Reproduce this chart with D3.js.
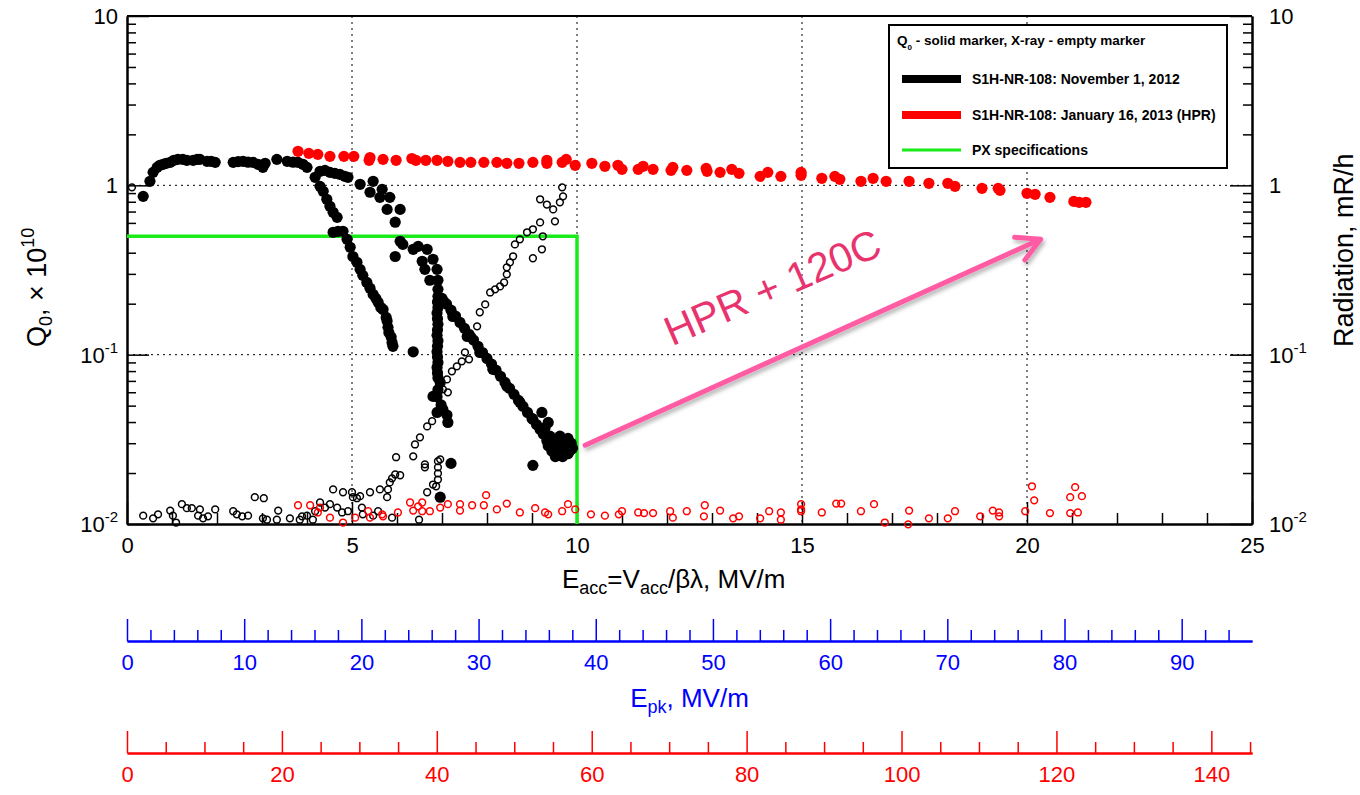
<!DOCTYPE html>
<html>
<head>
<meta charset="utf-8">
<script src="https://cdn.jsdelivr.net/npm/d3@7"></script>
<style>
  body { margin: 0; background: #fff; }
  text { font-family: "Liberation Sans", Arial, Helvetica, sans-serif; }
</style>
</head>
<body>
<div id="chart"></div>
<script>
// Q0 (x 1e10) and X-ray (mR/h) vs Eacc (MV/m)
var novQ0 = [
  [0.36,0.861],[0.51,1.056],[0.58,1.193],[0.67,1.277],[0.73,1.313],[0.80,1.331],[0.87,1.349],[0.96,1.367],
  [1.04,1.405],[1.13,1.424],[1.24,1.424],[1.33,1.405],[1.47,1.405],[1.56,1.424],[1.62,1.424],[1.78,1.386],
  [1.87,1.386],[1.96,1.367],[2.36,1.367],[2.47,1.38],[2.58,1.386],[2.69,1.37],[2.80,1.367],[2.91,1.33],
  [3.02,1.277],[3.07,1.349],[3.33,1.424],[3.56,1.386],[3.69,1.37],[3.80,1.367],[3.91,1.331],[4.00,1.277],
  [4.18,1.115],[4.29,1.21],[4.40,1.226],[4.51,1.193],[4.62,1.177],[4.73,1.161],[4.84,1.130],[4.91,1.115],
  // first drop
  [4.29,0.986],[4.36,0.922],[4.44,0.827],[4.51,0.752],[4.58,0.693],[4.67,0.647],[4.58,0.528],[4.69,0.535],
  [4.80,0.535],[4.89,0.48],[4.96,0.431],[5.02,0.38],[5.11,0.351],[5.18,0.319],[5.24,0.294],[5.33,0.267],
  [5.40,0.247],[5.47,0.227],[5.53,0.215],[5.58,0.204],[5.64,0.190],[5.69,0.185],[5.76,0.166],[5.78,0.158],
  [5.80,0.145],[5.82,0.135],[5.87,0.127],[5.89,0.118],[5.91,0.112],
  // second drop
  [5.18,1.014],[5.47,1.056],[5.40,0.910],[5.67,0.947],[5.62,0.849],[5.84,0.849],[5.78,0.721],[6.07,0.721],
  [5.96,0.606],[6.07,0.467],[6.13,0.448],[5.96,0.380],[6.36,0.419],[6.47,0.436],[6.67,0.419],[6.56,0.356],
  [6.80,0.366],[6.62,0.319],[6.89,0.319],[6.73,0.275],[6.91,0.275],[6.91,0.243],
  [6.91,0.221],[6.90,0.205],[6.91,0.19],[6.89,0.176],[6.90,0.163],[6.91,0.151],[6.90,0.140],[6.89,0.130],
  [6.91,0.121],[6.90,0.112],[6.89,0.104],[6.90,0.097],[6.91,0.090],[6.89,0.084],[6.90,0.078],[6.91,0.073],
  [6.96,0.0686],[6.91,0.062],[6.80,0.0567],[6.89,0.0564],[6.98,0.0505],[7.02,0.0475],[7.11,0.044],
  [7.13,0.0398],[6.89,0.0456],[6.36,0.104],[7.20,0.0228],[6.96,0.0144],
  // long slope
  [7.00,0.215],[7.05,0.205],[7.10,0.199],[7.20,0.183],[7.24,0.168],[7.30,0.169],[7.40,0.155],[7.50,0.143],
  [7.56,0.128],[7.60,0.132],[7.70,0.122],[7.80,0.112],[7.84,0.103],[7.90,0.103],[8.00,0.095],[8.10,0.088],
  [8.13,0.0819],[8.20,0.081],[8.30,0.0745],[8.40,0.0686],[8.44,0.065],[8.50,0.0633],[8.60,0.0583],
  [8.70,0.0537],[8.73,0.0523],[8.80,0.0495],[8.90,0.0456],[9.00,0.042],[9.02,0.0415],[9.10,0.0387],
  [9.18,0.0362],[9.22,0.0456],[9.36,0.0398],[9.29,0.037],
  [9.25,0.034],[9.33,0.031],[9.40,0.033],[9.45,0.029],[9.50,0.031],[9.55,0.027],[9.58,0.030],[9.62,0.033],
  [9.66,0.028],[9.70,0.031],[9.73,0.026],[9.76,0.029],[9.80,0.032],[9.84,0.027],[9.87,0.030],[9.90,0.028],
  [9.52,0.025],[9.60,0.026],[9.68,0.025],[9.80,0.026],[9.44,0.027],[9.36,0.029],[9.02,0.0222]
];

var novXray = [
  [0.11,0.973],[0.36,0.0112],[0.58,0.0108],[0.69,0.0114],[0.96,0.012],[1.02,0.0112],[1.09,0.0102],
  [1.22,0.0131],[1.33,0.0124],[1.44,0.0124],[1.62,0.0122],[1.58,0.0112],[1.69,0.0108],[1.80,0.0111],
  [1.96,0.0122],[2.36,0.0119],[2.44,0.0114],[2.56,0.0111],[2.69,0.0112],[2.84,0.0144],[3.04,0.0142],
  [3.02,0.0108],[3.11,0.0106],[3.36,0.012],[3.33,0.0106],[3.62,0.0108],[3.84,0.0106],[3.89,0.0111],
  [4.00,0.0112],[4.13,0.0106],[4.18,0.0119],[4.29,0.0134],[4.40,0.0125],[4.51,0.0131],[4.58,0.016],
  [4.67,0.0125],[4.78,0.0117],[4.80,0.0154],[4.91,0.0119],[5.00,0.0154],[5.02,0.0144],[5.11,0.0142],
  [5.18,0.0146],[5.22,0.0125],[5.24,0.0114],[5.40,0.0154],[5.47,0.0112],[5.58,0.0119],[5.62,0.016],
  [5.78,0.0144],[5.80,0.016],[5.84,0.0176],[5.89,0.0186],[5.96,0.0196],[5.98,0.0248],[6.07,0.0194],
  [5.89,0.0109],[6.36,0.0251],[6.40,0.0295],[6.62,0.0216],[6.67,0.0154],[6.80,0.0171],[6.87,0.0167],
  [6.91,0.0235],[6.91,0.0216],[6.91,0.0199],[6.91,0.0183],[6.49,0.0106],[6.51,0.0325],[6.67,0.0377],
  [6.78,0.0405],[6.89,0.0564],[7.02,0.0624],[7.13,0.0599],[7.11,0.0714],[7.22,0.0797],[7.33,0.0853],
  [7.44,0.0913],[7.60,0.0938],[7.51,0.1031],[7.67,0.128],[7.78,0.147],[7.84,0.178],[7.96,0.198],
  [8.07,0.233],[8.18,0.243],[8.29,0.253],[8.38,0.267],[8.44,0.298],[8.44,0.328],[8.51,0.351],
  [8.58,0.381],[8.62,0.448],[8.73,0.48],[8.89,0.528],[9.02,0.55],[9.18,0.604],[9.02,0.371],[9.22,0.419],
  [9.24,0.50],[9.51,0.613],[9.47,0.721],[9.33,0.77],[9.62,0.794],[9.18,0.827],[9.69,0.861],[9.67,0.973],
  [6.62,0.0225],[6.96,0.0241]
];

var janQ0 = [
  [3.80,1.588],[4.04,1.545],[4.24,1.524],[4.51,1.483],[4.82,1.483],[5.04,1.483],[5.38,1.405],[5.40,1.46],
  [5.69,1.424],[5.98,1.405],[6.33,1.44],[6.42,1.405],[6.64,1.405],[6.89,1.405],[7.13,1.386],[7.40,1.367],
  [7.64,1.367],[7.93,1.367],[8.22,1.367],[8.44,1.349],[8.71,1.349],[9.02,1.367],[9.33,1.349],[9.33,1.405],
  [9.67,1.367],[9.76,1.424],[9.96,1.313],[10.33,1.349],[10.62,1.295],[10.91,1.313],[11.00,1.243],
  [11.36,1.243],[11.47,1.295],[11.69,1.243],[12.09,1.226],[12.13,1.277],[12.44,1.226],[12.87,1.26],
  [12.89,1.21],[13.18,1.193],[13.44,1.243],[13.60,1.177],[14.07,1.130],[14.24,1.193],[14.53,1.130],
  [14.98,1.146],[14.98,1.193],[15.44,1.10],[15.73,1.130],[15.84,1.085],[16.31,1.056],[16.58,1.10],
  [16.87,1.056],[17.38,1.056],[17.82,1.028],[18.24,1.028],[18.40,0.986],[19.00,0.96],[19.36,0.96],
  [19.40,0.934],[20.00,0.897],[20.18,0.885],[20.51,0.849],[21.04,0.804],[21.16,0.794],[21.31,0.794]
];

var janXray = [
  [3.80,0.0129],[4.07,0.0129],[4.24,0.0117],[4.29,0.0125],[4.51,0.0109],[4.80,0.0102],[5.07,0.0109],
  [5.36,0.0119],[5.40,0.0109],[5.67,0.0114],[5.69,0.0111],[6.02,0.0117],[6.29,0.0134],[6.36,0.012],
  [6.47,0.0127],[6.56,0.0134],[6.56,0.0119],[6.73,0.0119],[6.96,0.0125],[7.13,0.0131],[7.40,0.0131],
  [7.40,0.012],[7.67,0.0129],[7.93,0.0129],[7.98,0.0148],[8.22,0.0122],[8.44,0.0132],[8.73,0.0117],
  [9.07,0.0124],[9.29,0.0117],[9.36,0.0114],[9.67,0.0119],[9.80,0.0131],[9.96,0.0122],[10.31,0.0114],
  [10.62,0.0112],[10.93,0.0114],[11.00,0.0119],[11.36,0.0117],[11.49,0.0116],[11.69,0.0116],[12.07,0.0119],
  [12.13,0.0109],[12.44,0.0119],[12.82,0.0111],[12.84,0.0129],[13.18,0.012],[13.47,0.0108],[13.60,0.0111],
  [14.07,0.0108],[14.27,0.0119],[14.53,0.0117],[14.53,0.0106],[14.98,0.0131],[14.98,0.0122],[14.98,0.0119],
  [15.44,0.0117],[15.76,0.0132],[15.87,0.0132],[16.31,0.0119],[16.60,0.0131],[16.84,0.0102],[17.38,0.012],
  [17.36,0.00995],[17.82,0.0108],[18.24,0.0108],[18.40,0.0119],[18.96,0.0111],[19.24,0.012],[19.38,0.0117],
  [19.38,0.0111],[19.96,0.0119],[20.11,0.0167],[20.16,0.0138],[20.51,0.0116],[20.96,0.0144],[21.07,0.0165],
  [21.22,0.0146],[20.96,0.0116],[21.13,0.0117]
];

// PX specification line
var specE = [0, 10, 10];
var specQ = [0.5, 0.5, 0.01];

var xTicks = [0, 5, 10, 15, 20, 25];
var yTicks = [0.01, 0.1, 1, 10];
var yTickBase = ["10", "10", "1", "10"];
var yTickExp = ["-2", "-1", "", ""];
var epkTicks = [0, 10, 20, 30, 40, 50, 60, 70, 80, 90];
var bpkTicks = [0, 20, 40, 60, 80, 100, 120, 140];
var epkPerEacc = 3.84;
var bpkPerEacc = 5.81;

var legendTitle = " - solid marker, X-ray - empty marker";
var legendLabels = ["S1H-NR-108: November 1, 2012", "S1H-NR-108: January 16, 2013 (HPR)", "PX specifications"];
var legendColors = ["#000000", "#ff0000", "#19ea19"];

var svgWidth = 1360;
var svgHeight = 795;
var margin = { top: 16, right: 108, bottom: 271, left: 127 };
var width = svgWidth - margin.left - margin.right;
var height = svgHeight - margin.top - margin.bottom;
var font = '"Liberation Sans", Arial, Helvetica, sans-serif';

var svg = d3.select("#chart").append("svg")
  .attr("width", svgWidth)
  .attr("height", svgHeight);

var defs = svg.append("defs");
defs.append("filter").attr("id", "shadow")
  .attr("x", "-10%").attr("y", "-10%").attr("width", "120%").attr("height", "130%")
  .append("feDropShadow")
  .attr("dx", 2).attr("dy", 3).attr("stdDeviation", 2)
  .attr("flood-color", "#000").attr("flood-opacity", 0.3);

var chartGroup = svg.append("g")
  .attr("transform", `translate(${margin.left}, ${margin.top})`);

var xScale = d3.scaleLinear().domain([0, 25]).range([0, width]);
var yScale = d3.scaleLog().domain([0.01, 10]).range([height, 0]);
var epkScale = d3.scaleLinear().domain([0, 25 * epkPerEacc]).range([0, width]);
var bpkScale = d3.scaleLinear().domain([0, 25 * bpkPerEacc]).range([0, width]);

// grid
chartGroup.selectAll(".vgrid")
  .data(xTicks.slice(1, -1))
  .enter().append("line")
  .attr("x1", d => xScale(d)).attr("x2", d => xScale(d))
  .attr("y1", 0).attr("y2", height)
  .attr("stroke", "#000").attr("stroke-width", 1).attr("stroke-dasharray", "2,4");

chartGroup.selectAll(".hgrid")
  .data(yTicks.slice(1, -1))
  .enter().append("line")
  .attr("x1", 0).attr("x2", width)
  .attr("y1", d => yScale(d)).attr("y2", d => yScale(d))
  .attr("stroke", "#000").attr("stroke-width", 1).attr("stroke-dasharray", "2,4");

function styleAxis(g, color) {
  g.attr("font-family", font).attr("font-size", 22);
  g.select(".domain").attr("stroke", color).attr("stroke-width", 2);
  g.selectAll(".tick line").attr("stroke", color).attr("stroke-width", 1.5);
  g.selectAll(".tick text").attr("fill", color);
}

// minor tick values
var xMinor = d3.range(0, 26, 1).filter(d => d % 5 !== 0);
var yMinor = [];
[0.01, 0.1, 1].forEach(function(dec) {
  for (var k = 2; k <= 9; k++) yMinor.push(dec * k);
});

// bottom axis
var xAxis = chartGroup.append("g")
  .attr("transform", `translate(0, ${height})`)
  .call(d3.axisBottom(xScale).tickValues(xTicks).tickSize(-22).tickSizeOuter(0).tickPadding(13));
styleAxis(xAxis, "#000");
chartGroup.append("g")
  .attr("transform", `translate(0, ${height})`)
  .call(d3.axisBottom(xScale).tickValues(xMinor).tickSize(-11).tickSizeOuter(0).tickFormat(""))
  .call(g => styleAxis(g, "#000"));

// left and right log axes
var leftAxis = chartGroup.append("g")
  .call(d3.axisLeft(yScale).tickValues(yTicks).tickSize(-22).tickSizeOuter(0).tickFormat(""));
styleAxis(leftAxis, "#000");
chartGroup.append("g")
  .call(d3.axisLeft(yScale).tickValues(yMinor).tickSize(-9).tickSizeOuter(0).tickFormat(""))
  .call(g => styleAxis(g, "#000"));

var rightAxis = chartGroup.append("g")
  .attr("transform", `translate(${width}, 0)`)
  .call(d3.axisRight(yScale).tickValues(yTicks).tickSize(-22).tickSizeOuter(0).tickFormat(""));
styleAxis(rightAxis, "#000");
chartGroup.append("g")
  .attr("transform", `translate(${width}, 0)`)
  .call(d3.axisRight(yScale).tickValues(yMinor).tickSize(-9).tickSizeOuter(0).tickFormat(""))
  .call(g => styleAxis(g, "#000"));

// frame top line
chartGroup.append("line")
  .attr("x1", 0).attr("x2", width).attr("y1", 0).attr("y2", 0)
  .attr("stroke", "#000").attr("stroke-width", 2);

// log tick labels (10^n style)
function logLabel(g, x, anchor) {
  yTicks.forEach(function(v, i) {
    var t = g.append("text")
      .attr("x", x)
      .attr("y", yScale(v) + 8)
      .attr("text-anchor", anchor)
      .attr("font-size", 22)
      .attr("fill", "#000");
    t.append("tspan").text(yTickBase[i]);
    if (yTickExp[i]) {
      t.append("tspan").attr("font-size", 15).attr("dy", -10).text(yTickExp[i]);
    }
  });
}
logLabel(chartGroup, -9, "end");
logLabel(chartGroup, width + 17, "start");

// spec line
var specLine = d3.line().x(d => xScale(d[0])).y(d => yScale(d[1]));
chartGroup.append("path")
  .datum(specE.map((e, i) => [e, specQ[i]]))
  .attr("d", specLine)
  .attr("fill", "none")
  .attr("stroke", legendColors[2])
  .attr("stroke-width", 3.5);

// markers
function solid(data, color) {
  chartGroup.append("g").selectAll("circle")
    .data(data).enter().append("circle")
    .attr("cx", d => xScale(d[0]))
    .attr("cy", d => yScale(d[1]))
    .attr("r", 5.6)
    .attr("fill", color);
}
function empty(data, color) {
  chartGroup.append("g").selectAll("circle")
    .data(data).enter().append("circle")
    .attr("cx", d => xScale(d[0]))
    .attr("cy", d => yScale(d[1]))
    .attr("r", 3.4)
    .attr("fill", "none")
    .attr("stroke", color)
    .attr("stroke-width", 1.5);
}
solid(novQ0, legendColors[0]);
empty(novXray, legendColors[0]);
empty(janXray, legendColors[1]);
solid(janQ0, legendColors[1]);

// axis titles
var xTitle = svg.append("text")
  .attr("x", 562).attr("y", 588)
  .attr("font-size", 26).attr("fill", "#000");
xTitle.append("tspan").text("E");
xTitle.append("tspan").attr("font-size", 18).attr("dy", 6).text("acc");
xTitle.append("tspan").attr("dy", -6).text("=V");
xTitle.append("tspan").attr("font-size", 18).attr("dy", 6).text("acc");
xTitle.append("tspan").attr("dy", -6).text("/\u03b2\u03bb, MV/m");

var yTitle = svg.append("text")
  .attr("transform", "translate(46, 347) rotate(-90)")
  .attr("font-size", 27).attr("fill", "#000");
yTitle.append("tspan").text("Q");
yTitle.append("tspan").attr("font-size", 18).attr("dy", 6).text("0");
yTitle.append("tspan").attr("dy", -6).text(", \u00d7 10");
yTitle.append("tspan").attr("font-size", 18).attr("dy", -12).text("10");

svg.append("text")
  .attr("transform", "translate(1353, 347) rotate(-90)")
  .attr("font-size", 27).attr("fill", "#000")
  .text("Radiation, mR/h");

// Epk axis (blue)
var epkY = 641;
var epkAxis = svg.append("g")
  .attr("transform", `translate(${margin.left}, ${epkY})`)
  .call(d3.axisBottom(epkScale).tickValues(epkTicks).tickSize(-22).tickSizeOuter(0).tickPadding(13));
styleAxis(epkAxis, "#0000ff");
svg.append("g")
  .attr("transform", `translate(${margin.left}, ${epkY})`)
  .call(d3.axisBottom(epkScale).tickValues(d3.range(0, 96, 2).filter(d => d % 10 !== 0)).tickSize(-11).tickSizeOuter(0).tickFormat(""))
  .call(g => styleAxis(g, "#0000ff"));

var epkTitle = svg.append("text")
  .attr("x", margin.left + width / 2).attr("y", 707)
  .attr("text-anchor", "middle")
  .attr("font-size", 26).attr("fill", "#0000ff");
epkTitle.append("tspan").text("E");
epkTitle.append("tspan").attr("font-size", 18).attr("dy", 6).text("pk");
epkTitle.append("tspan").attr("dy", -6).text(", MV/m");

// Bpk axis (red)
var bpkY = 753;
var bpkAxis = svg.append("g")
  .attr("transform", `translate(${margin.left}, ${bpkY})`)
  .call(d3.axisBottom(bpkScale).tickValues(bpkTicks).tickSize(-22).tickSizeOuter(0).tickPadding(13));
styleAxis(bpkAxis, "#ff0000");
svg.append("g")
  .attr("transform", `translate(${margin.left}, ${bpkY})`)
  .call(d3.axisBottom(bpkScale).tickValues(d3.range(0, 146, 5).filter(d => d % 20 !== 0)).tickSize(-11).tickSizeOuter(0).tickFormat(""))
  .call(g => styleAxis(g, "#ff0000"));

// legend
var legend = svg.append("g").attr("transform", "translate(889, 25)");
legend.append("rect")
  .attr("width", 338).attr("height", 143)
  .attr("fill", "#fff").attr("stroke", "#000").attr("stroke-width", 2);
var lt = legend.append("text")
  .attr("x", 8).attr("y", 20)
  .attr("font-size", 13.5).attr("font-weight", "bold");
lt.append("tspan").text("Q");
lt.append("tspan").attr("font-size", 8).attr("dy", 5).text("0");
lt.append("tspan").attr("dy", -5).text(legendTitle);

var legendRowY = [54, 90, 125];
var legendWidth = [8, 8, 3];
legendLabels.forEach(function(label, i) {
  legend.append("line")
    .attr("x1", 13).attr("x2", 72)
    .attr("y1", legendRowY[i]).attr("y2", legendRowY[i])
    .attr("stroke", legendColors[i]).attr("stroke-width", legendWidth[i]);
  legend.append("text")
    .attr("x", 83).attr("y", legendRowY[i] + 5)
    .attr("font-size", 14).attr("font-weight", "bold")
    .text(label);
});

// HPR arrow annotation
var arrowFrom = [10.18, 0.0292];
var arrowTo = [20.3, 0.48];
var ax0 = xScale(arrowFrom[0]) + margin.left, ay0 = yScale(arrowFrom[1]) + margin.top;
var ax1 = xScale(arrowTo[0]) + margin.left, ay1 = yScale(arrowTo[1]) + margin.top;
var ang = Math.atan2(ay1 - ay0, ax1 - ax0);
var headLen = 26, headAng = 0.5;
var arrowGroup = svg.append("g").attr("filter", "url(#shadow)")
  .attr("stroke", "#ff5ca4").attr("stroke-width", 5).attr("stroke-linecap", "round").attr("fill", "none");
arrowGroup.append("line").attr("x1", ax0).attr("y1", ay0).attr("x2", ax1).attr("y2", ay1);
arrowGroup.append("path")
  .attr("stroke-linejoin", "round")
  .attr("d", "M" + (ax1 - headLen * Math.cos(ang - headAng)) + "," + (ay1 - headLen * Math.sin(ang - headAng)) +
    "L" + ax1 + "," + ay1 +
    "L" + (ax1 - headLen * Math.cos(ang + headAng)) + "," + (ay1 - headLen * Math.sin(ang + headAng)));

var labelAt = [12.11, 0.112];
svg.append("text")
  .attr("transform", `translate(${xScale(labelAt[0]) + margin.left}, ${yScale(labelAt[1]) + margin.top}) rotate(-23.5)`)
  .attr("font-size", 41)
  .attr("fill", "#e8336f")
  .text("HPR + 120C");
</script>
</body>
</html>
